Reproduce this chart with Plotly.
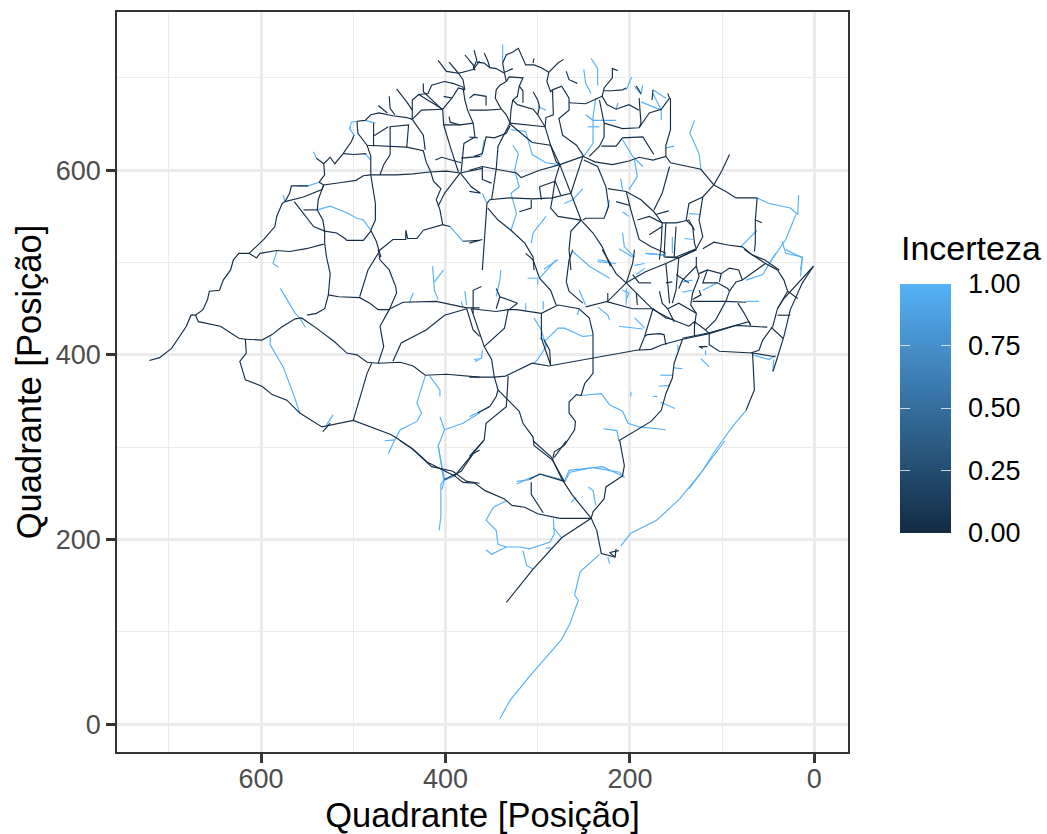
import plotly.graph_objects as go
from plotly.colors import sample_colorscale

low_colour = "#132B43"
high_colour = "#56B1F7"
colour_scale = [[0, low_colour], [1, high_colour]]
legend_ticks = [0, 0.25, 0.5, 0.75, 1]
legend_labels = ["0.00", "0.25", "0.50", "0.75", "1.00"]
axis_major = [0, 200, 400, 600]

dark_west = [
 [(721,394),(710,397),(697,407),(688,420),(681,431),(676,443),(671,443),(663,449),(658,460),(656,469),(645,470),(641,481),(633,492),(630,503),(624,510),(613,510)],
 [(613,510),(605,505),(601,510),(583,513),(569,512),(551,515),(532,520)],
 [(613,510),(597,525),(585,539),(583,550),(577,564),(574,566)],
 [(574,566),(554,571),(534,579),(532,584),(511,587),(497,589),(489,594),(481,595),(453,595),(435,596),(417,598),(399,599),(384,597),(360,602)],
 [(574,566),(569,575),(567,583),(561,583),(549,583)],
 [(537,587),(532,584),(534,579),(538,568),(539,557),(533,546),(531,534),(531,521),(529,506),(525,488),(527,465),(531,450),(540,445),(550,443)],
 [(564,566),(554,553),(543,539),(531,534),(518,532),(509,526),(507,524),(489,524),(481,534)],
 [(554,557),(539,557)],
 [(537,587),(531,595),(532,607),(525,614),(520,607),(511,618),(502,631),(499,638)],
 [(540,613),(532,607)],
 [(511,618),(499,617),(486,618)],
 [(496,653),(487,654),(481,660),(472,662),(457,659),(442,657),(436,655)],
 [(496,653),(495,640),(485,627),(460,626),(442,625),(424,621),(421,609),(416,598),(413,588),(405,580),(410,568),(406,557),(403,541)],
 [(436,655),(424,638),(422,622)],
 [(442,625),(440,649),(460,647),(460,626)],
 [(478,626),(478,637),(462,647)],
 [(478,637),(478,651)],
 [(460,626),(460,617),(467,606),(471,595)],
 [(485,627),(481,615),(481,595),(476,564),(476,546),(481,535),(475,523),(472,512),(470,506)],
 [(436,655),(426,665),(403,666)],
 [(436,655),(436,676),(429,682),(403,666)],
 [(453,688),(442,674),(436,665)],
 [(461,680),(460,667),(455,660)],
 [(473,670),(463,662)],
 [(424,694),(424,685),(403,665)],
 [(429,682),(419,683),(415,692),(401,696),(392,694),(381,690),(379,676),(376,665),(370,651),(368,636),(380,629),(383,598)],
 [(403,666),(402,649),(395,626),(386,598)],
 [(408,719),(399,707),(386,705),(381,698),(379,687)],
 [(396,717),(386,705),(370,709),(363,718)],
 [(379,725),(370,714),(368,708)],
 [(402,649),(384,649),(370,651)],
 [(396,658),(395,652),(384,649)],
 [(411,611),(404,614),(390,610),(383,608)],
 [(383,613),(362,615)],
 [(384,597),(372,582),(362,575),(374,577)],
 [(384,597),(401,575),(408,561)],
 [(402,680),(393,678),(386,689),(379,687)],
 [(393,678),(403,666)],
 [(473,512),(457,525),(443,525),(443,535),(441,526),(431,526),(424,535),(411,539),(403,541),(395,539)],
 [(381,523),(363,524)],
 [(527,465),(516,463),(493,462),(482,456),(473,449),(460,449)],
 [(617,417),(599,416),(588,422),(578,430),(563,439),(556,440),(540,429),(520,414),(507,402),(496,400),(485,392),(473,391),(449,392),(435,388),(422,378),(399,379),(363,376)],
 [(671,443),(668,436),(644,431),(624,418),(617,417),(616,402),(623,393),(617,373),(599,366),(588,357),(572,351),(558,337),(534,322),(500,329),(460,314),(453,310),(437,299),(415,279),(392,274),(377,263),(363,261)],
 [(533,317),(525,326)],
 [(500,329),(491,358),(485,380),(480,391)],
 [(473,391),(467,409),(471,431),(461,449),(453,467),(454,474),(461,492),(471,503),(473,514)],
 [(473,510),(484,492),(493,463)],
 [(457,393),(448,413),(421,427),(401,443),(377,450)],
 [(460,450),(446,457),(410,458),(377,451),(363,451)],
 [(377,450),(370,427),(363,420)],
 [(401,265),(383,274),(370,293),(363,297)],
]

dark_north = [
 [(374,600),(360,604),(345,601),(323,597),(318,592),(298,600),(276,606),(251,615),(238,609),(219,606),(201,610),(190,614),(175,611),(161,615),(156,608),(139,604),(123,601),(109,584),(100,600),(92,617)],
 [(109,584),(96,577),(85,570),(62,570)],
 [(62,570),(64,546),(64,521),(65,512)],
 [(64,546),(57,543)],
 [(109,584),(121,571),(136,564),(139,546),(132,539),(130,521),(128,515)],
 [(121,571),(125,546),(121,528),(128,515),(150,506),(161,506)],
 [(121,515),(109,522),(94,519),(78,517),(67,508),(54,503),(38,492)],
 [(369,730),(366,719),(370,710)],
 [(366,717),(358,716),(352,711),(345,710),(336,705)],
 [(358,727),(354,718),(352,711)],
 [(336,705),(338,716),(334,725),(327,728),(321,732),(318,725),(313,714),(304,714),(296,711),(288,706),(278,716),(272,720)],
 [(304,721),(305,716)],
 [(327,710),(336,706)],
 [(336,705),(334,696),(341,692),(345,687),(346,678),(340,667),(334,660),(330,651)],
 [(334,696),(331,701),(316,700),(320,691),(322,680),(327,676),(329,665),(330,651)],
 [(320,691),(316,686),(316,673)],
 [(327,676),(322,671),(305,666),(300,660),(292,647)],
 [(305,685),(300,676),(298,669),(300,660)],
 [(288,706),(290,696),(286,685),(284,687),(274,691),(266,678),(266,665),(277,656),(273,638),(258,627),(250,615)],
 [(284,687),(283,660),(291,657),(292,647),(286,627),(280,609),(276,606)],
 [(269,707),(266,698),(257,694)],
 [(266,673),(248,672),(235,678),(230,680)],
 [(230,680),(228,689),(219,700),(219,710),(213,708)],
 [(228,686),(219,686),(208,687),(204,689)],
 [(230,680),(225,671),(215,666),(201,671),(190,665)],
 [(233,676),(228,651),(228,636),(233,626),(244,615)],
 [(228,651),(208,645),(190,646),(179,662),(166,666),(157,678),(159,683)],
 [(190,678),(188,651),(190,646)],
 [(188,683),(193,691)],
 [(175,687),(176,676)],
 [(231,626),(215,626),(208,635),(186,636),(174,617)],
 [(156,678),(156,644),(161,627),(161,615)],
 [(157,604),(165,575),(174,557)],
 [(224,580),(204,577),(188,568),(174,555),(165,543),(166,521),(168,503)],
 [(250,611),(235,604),(226,582),(223,561),(228,548),(248,548),(251,546)],
 [(276,606),(264,575),(253,546)],
 [(251,615),(264,575),(284,570),(305,569),(331,570),(352,568),(355,564),(357,535),(360,492)],
 [(276,606),(281,590),(284,570),(286,559),(278,550),(253,546),(264,534),(266,514),(264,492)],
 [(253,546),(240,532),(230,517),(221,496)],
 [(298,582),(281,588),(275,573)],
 [(296,568),(298,582)],
 [(354,559),(343,546),(329,535),(314,521),(305,506),(304,492)],
 [(307,568),(307,559),(320,555)],
 [(345,601),(350,568)],
 [(360,604),(360,590),(350,586)],
 [(330,651),(343,626),(345,601)],
 [(330,648),(334,640),(347,635),(356,636),(360,618),(369,615)],
 [(374,665),(356,665),(340,666)],
 [(374,636),(365,635)],
 [(374,678),(369,682),(356,680),(356,670)],
 [(330,651),(312,649),(292,647)],
 [(330,650),(306,630),(286,627),(276,606)],
 [(204,577),(199,557),(190,525),(177,517),(161,510)],
 [(192,546),(179,550),(165,543),(150,543),(136,546),(130,535)],
 [(161,543),(163,506)],
 [(150,539),(152,506)],
 [(179,530),(165,539)],
 [(215,566),(201,562)],
 [(172,552),(158,556)],
 [(374,521),(360,525)],
 [(163,506),(147,505),(128,514)],
]

dark_east = [
 [(374,376),(347,376),(335,377),(306,391),(288,388),(240,397),(193,405),(177,406),(165,411),(143,417),(114,423),(85,432),(51,430)],
 [(143,418),(114,424),(89,431),(71,436),(69,432)],
 [(114,423),(114,411),(103,404),(67,402),(42,398)],
 [(1,496),(13,478),(26,449),(33,420),(42,391),(45,382)],
 [(1,496),(18,478),(33,461),(40,450),(45,431),(56,416),(60,405),(69,402)],
 [(40,443),(26,443)],
 [(47,430),(34,418)],
 [(67,402),(65,362),(70,350),(74,340)],
 [(143,417),(152,391),(154,375),(161,358),(166,340),(177,328),(212,307)],
 [(253,356),(249,369),(240,380),(240,423),(244,440),(255,450),(278,454),(296,445),(323,449),(332,449),(345,447),(372,450)],
 [(296,445),(296,418),(286,389)],
 [(293,416),(287,405),(286,389)],
 [(253,356),(258,357),(266,349),(266,337),(259,328),(260,319),(271,302),(282,295),(284,286)],
 [(284,286),(304,302),(305,311),(316,326),(320,339),(343,362),(347,376),(350,395),(358,409),(370,445),(372,450)],
 [(358,409),(350,416),(336,429),(332,449)],
 [(332,377),(334,344),(356,326),(358,308),(374,290)],
 [(343,362),(345,355),(352,344),(365,337)],
 [(284,286),(271,263)],
 [(271,263),(298,271),(309,265)],
 [(370,445),(370,470),(361,474)],
 [(345,472),(341,463),(322,456),(331,449)],
 [(341,463),(345,450)],
 [(280,454),(286,470),(298,483),(305,503),(313,510)],
 [(269,479),(266,503),(262,514)],
 [(269,479),(266,469),(258,462),(251,456)],
 [(230,514),(215,488),(204,478),(175,449),(154,438),(136,431)],
 [(204,478),(224,458),(248,452)],
 [(226,458),(197,450),(175,450),(177,443),(184,420),(190,405)],
 [(204,478),(183,490),(161,499),(147,505),(128,514)],
 [(161,499),(157,456)],
 [(147,505),(150,470),(154,456)],
 [(128,496),(143,481)],
 [(128,506),(128,496),(125,485),(132,467),(134,454),(128,445),(130,431)],
 [(190,478),(177,478)],
 [(193,467),(192,454)],
 [(168,469),(165,456),(159,450),(152,436)],
 [(159,450),(147,456),(128,445)],
 [(175,450),(161,440),(152,438)],
 [(132,458),(96,458),(74,457)],
 [(96,458),(107,438),(118,427)],
 [(92,469),(96,458)],
 [(92,469),(85,479),(78,481),(53,499),(40,492),(33,481),(29,469),(18,461)],
 [(29,469),(40,450)],
 [(78,481),(82,492),(92,494),(101,488),(116,492),(125,488)],
 [(116,492),(121,478),(105,478),(94,472),(92,469)],
 [(101,488),(103,479)],
 [(83,456),(76,445),(69,432)],
 [(136,431),(130,436),(118,427),(114,423)],
 [(130,436),(130,420)],
 [(161,411),(163,422),(168,423),(181,422),(184,420)],
 [(121,407),(125,409),(116,409)],
 [(76,514),(64,506),(53,499)],
 [(195,514),(197,499),(204,478)],
 [(224,467),(224,458)],
 [(161,478),(154,479)],
 [(147,472),(143,481)],
 [(150,487),(136,478)],
 [(125,470),(123,465),(132,460)],
 [(197,487),(190,478)],
]

dark_south = [
 [(449,307),(435,298),(420,284),(404,276),(390,269),(381,262),(368,261),(357,253),(336,244),(328,237),(314,235),(300,228),(276,223),(242,223)],
 [(359,307),(381,280),(390,269)],
 [(305,307),(285,289),(274,266),(263,249),(242,223),(236,210),(231,185),(216,181),(215,190)],
 [(269,307),(282,289)],
 [(211,307),(206,280),(208,269),(226,257),(228,244),(240,230),(242,223)],
 [(242,223),(274,202),(305,168),(334,132)],
 [(307,262),(307,249),(294,229)],
 [(216,181),(222,186),(212,188)],
]

light_west = [
 [(583,512),(587,499),(581,495)],
 [(503,647),(504,645),(499,638)],
 [(496,653),(502,652),(504,645)],
 [(561,583),(549,583),(537,587)],
 [(487,618),(481,611)],
 [(543,620),(540,613)],
 [(576,573),(574,566)],
 [(476,651),(487,654)],
 [(539,557),(525,561),(507,554),(496,548),(489,546),(481,535)],
 [(579,472),(570,456),(563,445),(558,440),(552,430)],
 [(590,420),(590,411),(576,387),(569,369),(565,358),(558,337)],
 [(422,377),(431,348),(426,337),(431,328),(449,319),(455,308),(462,293)],
 [(466,307),(455,308)],
 [(417,377),(406,362),(406,355)],
 [(406,333),(401,319),(408,301),(404,279),(401,265),(404,254)],
 [(401,319),(381,326),(363,337)],
 [(414,496),(412,470),(408,460)],
 [(412,479),(402,492)],
 [(379,469),(377,454)],
 [(383,458),(381,452)],
 [(363,395),(368,393)],
 [(522,335),(529,324)],
 [(435,467),(439,457)],
 [(395,539),(381,523)],
]

light_north = [
 [(250,709),(248,694),(242,683)],
 [(242,721),(235,710),(235,692)],
 [(237,678),(240,658),(240,629),(250,615)],
 [(248,660),(240,654),(215,654)],
 [(246,647),(233,647)],
 [(213,673),(215,666)],
 [(198,701),(204,687)],
 [(195,691),(188,682),(186,692)],
 [(175,687),(161,678)],
 [(188,674),(166,665),(166,654)],
 [(175,683),(166,665)],
 [(130,654),(135,640),(125,618),(123,601)],
 [(161,624),(152,626)],
 [(208,633),(197,615),(186,604)],
 [(195,611),(192,593),(201,579)],
 [(210,591),(208,579)],
 [(222,568),(226,553)],
 [(327,627),(321,618),(325,600),(320,582),(329,575),(323,553),(329,535)],
 [(358,633),(361,615)],
 [(360,575),(355,564)],
 [(291,665),(300,669)],
 [(271,564),(262,568),(251,580)],
 [(291,550),(305,532),(307,521)],
 [(253,546),(264,534)],
 [(262,512),(244,496),(222,483)],
 [(278,503),(293,493)],
 [(235,501),(215,499)],
 [(20,552),(31,525),(49,499)],
 [(62,535),(80,517)],
 [(35,523),(31,510),(13,506),(15,492)],
 [(136,553),(123,552)],
 [(154,528),(154,510)],
 [(141,526),(132,525)],
 [(208,532),(206,517),(195,506)],
 [(212,515),(197,506)],
 [(183,510),(163,508)],
 [(208,555),(201,550)],
 [(62,570),(49,564),(26,559),(18,552),(17,573)],
 [(329,644),(313,642),(306,617),(291,608),(276,606)],
 [(374,718),(369,714)],
 [(338,736),(338,727),(338,716)],
]

light_east = [
 [(360,405),(361,396),(369,395)],
 [(340,492),(341,481),(345,463)],
 [(311,483),(300,483),(300,476)],
 [(313,456),(313,447)],
 [(294,458),(294,449)],
 [(304,440),(296,427),(291,409),(300,395),(304,391)],
 [(291,416),(278,429),(271,429),(251,420),(240,421)],
 [(298,418),(291,416)],
 [(255,470),(248,454)],
 [(255,450),(257,443)],
 [(235,452),(224,443),(222,438)],
 [(195,440),(184,429)],
 [(212,431),(186,428)],
 [(204,472),(204,454)],
 [(195,497),(184,499)],
 [(193,487),(184,494)],
 [(183,510),(161,508)],
 [(74,458),(60,458)],
 [(31,514),(13,505),(15,485)],
 [(42,510),(56,487),(74,481)],
 [(148,411),(148,405)],
 [(152,386),(143,385)],
 [(167,378),(154,378)],
 [(169,366),(157,367)],
 [(175,355),(170,355)],
 [(167,349),(151,342)],
 [(199,360),(199,355)],
 [(123,396),(114,387)],
 [(118,405),(118,400)],
 [(67,400),(49,395),(42,400)],
 [(44,395),(45,382)],
 [(235,503),(222,501)],
 [(280,503),(298,483)],
 [(253,356),(231,358),(222,346),(208,339),(202,326),(190,322),(161,319)],
 [(212,307),(214,318),(229,320)],
 [(271,263),(266,275),(230,279),(206,268)],
 [(208,470),(201,467),(204,460)],
 [(143,479),(132,481)],
 [(143,468),(132,470)],
 [(121,470),(105,478)],
 [(74,340),(89,322),(107,297),(121,275),(136,255)],
 [(374,333),(352,344)],
 [(323,263),(309,265)],
]

light_south = [
 [(408,303),(404,276),(402,264),(405,260),(405,224),(407,210)],
 [(402,264),(390,269)],
 [(323,260),(310,266),(296,271),(274,265)],
 [(271,262),(265,273),(240,278),(211,273),(206,267)],
 [(334,242),(348,235),(356,221),(345,210),(343,195),(334,192),(319,192),(309,190),(287,197),(282,206),(283,223)],
 [(283,213),(274,202)],
 [(356,189),(350,184),(334,192)],
 [(316,188),(312,172),(305,168)],
 [(291,191),(285,191)],
 [(245,257),(240,253),(237,237)],
 [(264,240),(258,246)],
 [(210,193),(199,207),(171,221),(146,244),(124,271),(97,307)],
 [(233,184),(254,165),(260,140),(256,134),(265,109),(274,92),(294,69),(307,54),(330,26),(341,6)],
 [(224,181),(222,174)],
]

uncertainty_dark = 0.02
uncertainty_light = 1.0


def road_trace(groups, uncertainty):
    xs, ys = [], []
    for group in groups:
        for road in group:
            xs.extend(p[0] for p in road)
            ys.extend(p[1] for p in road)
            xs.append(None)
            ys.append(None)
    colour = sample_colorscale(colour_scale, [uncertainty])[0]
    return go.Scatter(x=xs, y=ys, mode="lines", showlegend=False, hoverinfo="skip",
                      line=dict(color=colour, width=1.15))


fig = go.Figure()
fig.add_trace(road_trace([light_west, light_north, light_east, light_south], uncertainty_light))
fig.add_trace(road_trace([dark_west, dark_north, dark_east, dark_south], uncertainty_dark))

# Invisible carriers for the legend bar: one with labels, two for the white tick notches.
for axis in ("coloraxis", "coloraxis2", "coloraxis3"):
    fig.add_trace(go.Scatter(x=[300, 300], y=[300, 300], mode="markers", showlegend=False, hoverinfo="skip",
                             marker=dict(color=[0, 1], coloraxis=axis, size=1, opacity=0)))

bar_common = dict(x=1.0711, xanchor="left", y=0.2966, yanchor="bottom", len=0.337, lenmode="fraction",
                  thickness=51, thicknessmode="pixels", xpad=0, ypad=0, outlinewidth=0, borderwidth=0,
                  tickmode="array", tickvals=legend_ticks)

axis_common = dict(tickmode="array", tickvals=axis_major, showgrid=True, gridcolor="#EBEBEB", gridwidth=2.6,
                   zeroline=False,
                   minor=dict(dtick=100, tick0=0, showgrid=True, gridcolor="#EBEBEB", gridwidth=1.3, ticks=""),
                   ticks="outside", ticklen=9, tickwidth=2.6, tickcolor="#333333",
                   tickfont=dict(size=27, color="#4D4D4D"),
                   showline=True, linecolor="#333333", linewidth=1.8, mirror=True, automargin=False)

fig.update_layout(
    width=1047, height=834, autosize=False,
    margin=dict(l=117, r=199, t=12, b=82, pad=0),
    paper_bgcolor="white", plot_bgcolor="white",
    font=dict(family="Liberation Sans, Arial, sans-serif", color="black"),
    annotations=[dict(text="Incerteza", xref="paper", yref="paper", x=1.0711, y=0.681, xanchor="left",
                      yanchor="middle", showarrow=False, borderpad=0, font=dict(size=34, color="black"))],
    coloraxis=dict(colorscale=colour_scale, cmin=0, cmax=1, colorbar=dict(
        **bar_common, ticktext=legend_labels, ticks="outside", ticklen=12, tickcolor="rgba(0,0,0,0)",
        tickfont=dict(size=27, color="black"))),
    coloraxis2=dict(colorscale=colour_scale, cmin=0, cmax=1, colorbar=dict(
        **bar_common, ticks="inside", ticklen=10, tickwidth=1.3, tickcolor="rgba(255,255,255,0.75)",
        showticklabels=False)),
    coloraxis3=dict(colorscale=colour_scale, cmin=0, cmax=1, colorbar=dict(
        **{**bar_common, "thickness": 10}, ticks="inside", ticklen=10, tickwidth=1.3,
        tickcolor="rgba(255,255,255,0.75)", showticklabels=False)),
    xaxis=dict(range=[756.2, -36.5], ticklabelstandoff=-7, **axis_common,
               title=dict(text="Quadrante [Posição]", standoff=12, font=dict(size=34.5, color="black"))),
    yaxis=dict(range=[-30, 771.3], ticklabelstandoff=0, **axis_common,
               title=dict(text="Quadrante [Posição]", standoff=4, font=dict(size=34.5, color="black"))),
)

fig.write_html("out.html", config={"displayModeBar": False},
               post_script="document.body.style.margin='0';document.body.style.overflow='hidden';")
